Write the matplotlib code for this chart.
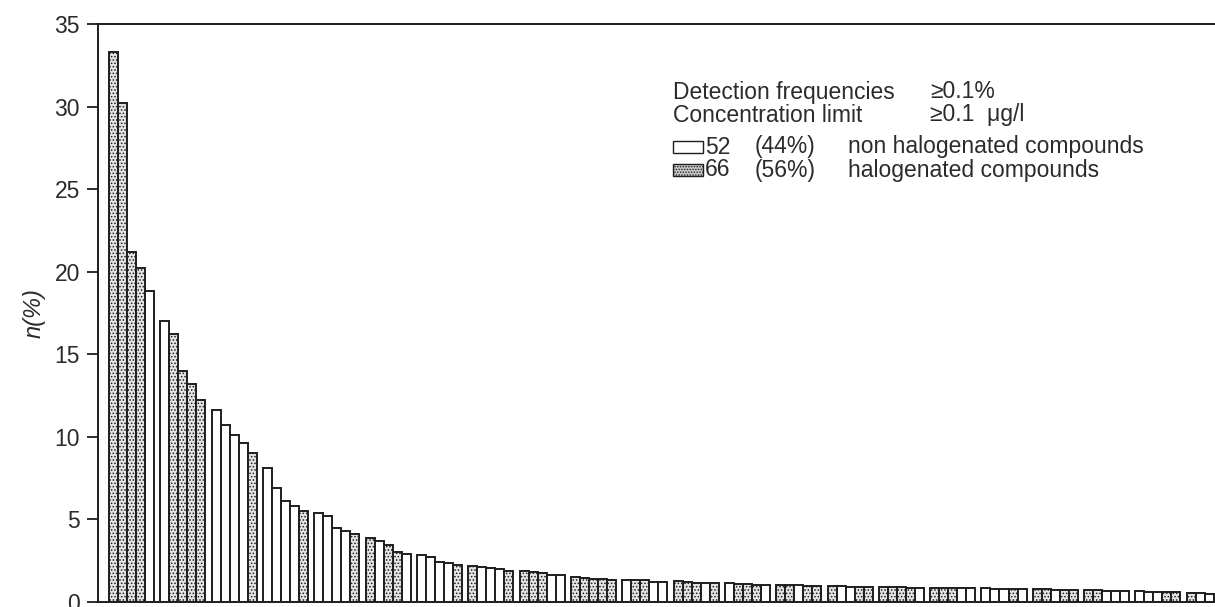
import numpy as np
from matplotlib import patches as patches
from matplotlib import pyplot as plt

plt.rcParams['font.family'] = ['Liberation Sans', 'DejaVu Sans']
plt.rcParams['hatch.color'] = '#8a8a8a'
plt.rcParams['hatch.linewidth'] = 0.7

# detection frequency n(%) per compound, sorted
values = [
    33.3, 30.2, 21.2, 20.2, 18.8,
    17.0, 16.2, 14.0, 13.2, 12.2,
    11.6, 10.7, 10.1, 9.6, 9.0,
    8.1, 6.9, 6.1, 5.8, 5.5,
    5.35, 5.2, 4.45, 4.25, 4.1,
    3.85, 3.65, 3.45, 3.0, 2.9,
    2.85, 2.7, 2.4, 2.35, 2.2,
    2.15, 2.1, 2.05, 2.0, 1.85,
    1.85, 1.8, 1.7, 1.62, 1.6,
    1.5, 1.42, 1.37, 1.35, 1.33,
    1.33, 1.3, 1.28, 1.2, 1.18,
    1.22, 1.18, 1.14, 1.12, 1.1,
    1.1, 1.07, 1.06, 1.03, 1.02,
    1.02, 0.99, 0.98, 0.96, 0.95,
    0.94, 0.92, 0.91, 0.9, 0.89,
    0.88, 0.87, 0.86, 0.85, 0.84,
    0.84, 0.83, 0.82, 0.8, 0.8,
    0.8, 0.79, 0.78, 0.77, 0.76,
    0.75, 0.74, 0.72, 0.71, 0.7,
    0.7, 0.68, 0.66, 0.65, 0.64,
    0.62, 0.6, 0.58, 0.56, 0.55,
    0.52, 0.5, 0.48, 0.47, 0.46,
    0.44, 0.43, 0.42, 0.41, 0.4,
]
# H = halogenated, N = non halogenated
kinds = (
    'HHHHN' 'NHHHH' 'NNNNH' 'NNNNH' 'NNNNH'
    'HNHHN' 'NNNNH' 'HNNNH' 'HHHNN' 'HHHHH'
    'NHHNN' 'HHHNH' 'NHHHN' 'HHNHH' 'HNNHH'
    'HHHHN' 'HHHNN' 'NNNHN' 'HHNHH' 'HHNNN'
    'NNNHH' 'HNNNH' 'NHNNN'
)
yticks = [0, 5, 10, 15, 20, 25, 30, 35]

text_color = '#2b2b2b'
edge = '#1e1e1e'
hal_face = '#e4e4e4'
group_gap = 0.7

fig = plt.figure(figsize=(12.15, 6.07), dpi=100)
ax = fig.add_axes([0.0805, 0.009, 0.98, 0.951])

idx = np.arange(len(values))
xpos = idx + (idx // 5) * group_gap
for x, v, k in zip(xpos, values, kinds):
    if k == 'H':
        ax.bar(x, v, width=1, align='edge', facecolor=hal_face,
               edgecolor=edge, linewidth=1.4, hatch='.....')
    else:
        ax.bar(x, v, width=1, align='edge', facecolor='white',
               edgecolor=edge, linewidth=1.4)

ax.set_xlim(-1.25, 131.0)
ax.set_ylim(0, 35)
ax.set_yticks(yticks)
ax.set_xticks([])
ax.tick_params(axis='y', direction='out', length=8, width=1.3,
               labelsize=16.5, colors=edge, labelcolor=text_color, pad=5)
for side in ['left', 'bottom', 'top']:
    ax.spines[side].set_linewidth(1.4)
    ax.spines[side].set_color(edge)
ax.spines['right'].set_visible(False)

ax.set_ylabel('n(%)', fontsize=17, style='italic', color=text_color)
ax.yaxis.set_label_coords(-0.044, 0.5)

# legend / annotation block
fs = 16.5
tr = fig.transFigure
W, H = 1215.0, 607.0


def fx(px):
    return px / W


def fy(py):
    return 1 - py / H


fig.text(fx(673), fy(92), 'Detection frequencies', fontsize=fs,
         color=text_color, va='center')
fig.text(fx(930), fy(92), '≥0.1%', fontsize=fs, color=text_color, va='center')
fig.text(fx(673), fy(115), 'Concentration limit', fontsize=fs,
         color=text_color, va='center')
fig.text(fx(930), fy(115), '≥0.1  μg/l', fontsize=fs, color=text_color,
         va='center')

rows = [
    (147, '52', '(44%)', 'non halogenated compounds', 'N'),
    (170, '66', '(56%)', 'halogenated compounds', 'H'),
]
for py, count, share, label, k in rows:
    if k == 'H':
        box = patches.Rectangle((fx(673), fy(py + 6)), fx(30), 12 / H,
                                transform=tr, facecolor='#c8c8c8',
                                edgecolor=edge, linewidth=1.0,
                                hatch='......')
    else:
        box = patches.Rectangle((fx(673), fy(py + 6)), fx(30), 12 / H,
                                transform=tr, facecolor='white',
                                edgecolor=edge, linewidth=1.0)
    fig.patches.append(box)
    fig.text(fx(705), fy(py), count, fontsize=fs, color=text_color,
             va='center')
    fig.text(fx(755), fy(py), share, fontsize=fs, color=text_color,
             va='center')
    fig.text(fx(848), fy(py), label, fontsize=fs, color=text_color,
             va='center')

fig.savefig('out.png', dpi=100)
